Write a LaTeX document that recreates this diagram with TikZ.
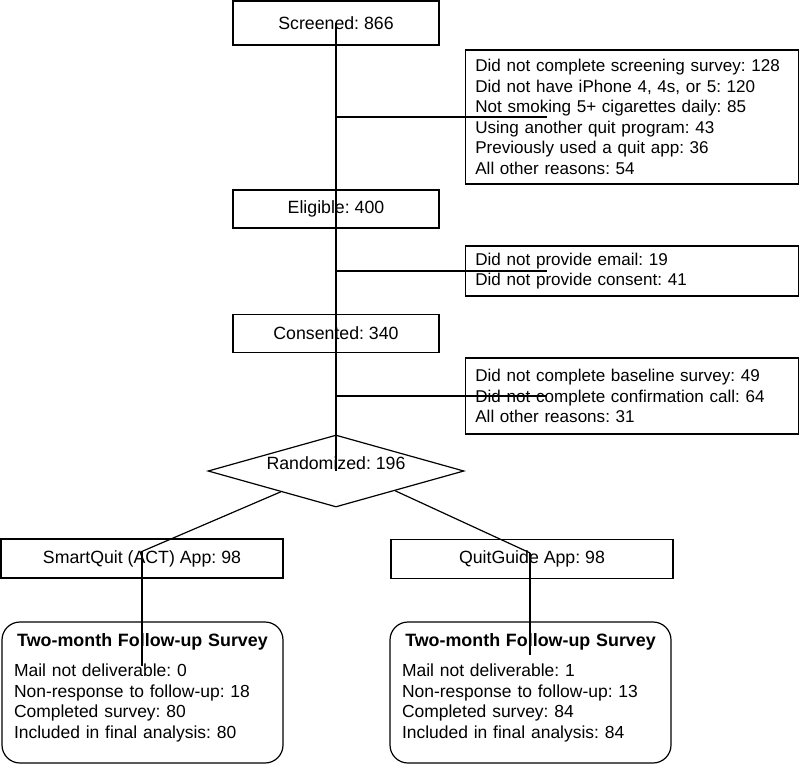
\documentclass[tikz,border=0pt]{standalone}
\usepackage{fontspec}
\setmainfont{Liberation Sans}
\frenchspacing
\usetikzlibrary{calc,shapes.geometric}

\begin{document}
\begin{tikzpicture}[x=0.75pt, y=-0.75pt, line width=0.9pt,
    every node/.style={font=\fontsize{12.8}{15.4}\selectfont},
    big/.style={font=\fontsize{13.3}{15.4}\selectfont},
    stage/.style={draw, big, minimum width=154.5pt, minimum height=28.5pt},
    reasons/.style={draw, text width=235pt, inner xsep=7.4pt, align=left},
    decision/.style={draw, diamond, inner sep=0pt, aspect=3.5,
      minimum width=192pt, minimum height=54pt},
    arm/.style={draw, big, minimum width=211.5pt, minimum height=29.25pt},
    followup/.style={draw, rounded corners=13.5pt, minimum width=210.75pt,
      minimum height=105.75pt},
    fulines/.style={anchor=north, inner sep=0pt, text width=192.75pt, align=left,
      font=\fontsize{13.1}{15.4}\selectfont}
  ]
  \useasboundingbox (0,0) rectangle (800,764);

  % Main column
  \node[stage, minimum height=33pt] (screened) at (336,23) {Screened: 866};
  \node[stage] (eligible) at (336,209) {Eligible: 400};
  \node[stage] (consented) at (336,333.5) {Consented: 340};
  \node[decision, label={[big, yshift=6pt]center:Randomized: 196}] (random) at (336,471) {};

  % Exclusions on the right
  \node[reasons, minimum height=100.5pt] (excl1) at (632,117) {%
    Did not complete screening survey: 128\\
    Did not have iPhone 4, 4s, or 5: 120\\
    Not smoking 5+ cigarettes daily: 85\\
    Using another quit program: 43\\
    Previously used a quit app: 36\\
    All other reasons: 54};
  \node[reasons, minimum height=37.5pt] (excl2) at (632,271) {%
    Did not provide email: 19\\
    Did not provide consent: 41};
  \node[reasons, minimum height=57pt] (excl3) at (632,396) {%
    Did not complete baseline survey: 49\\
    Did not complete confirmation call: 64\\
    All other reasons: 31};

  % The two arms
  \node[arm] (appA) at (142,558.5) {SmartQuit (ACT) App: 98};
  \node[arm] (appB) at (532,559) {QuitGuide App: 98};

  % Follow-up boxes
  \node[followup] (fuA) at (142.5,692.5) {};
  \node[followup] (fuB) at (530.5,692.5) {};
  \node[fulines] (fuAtext) at ($(fuA.north)+(0,12)$) {%
    {\centering\fontsize{13.4}{15.4}\selectfont\bfseries Two-month Follow-up Survey\par}\vspace{7pt}
    Mail not deliverable: 0\\
    Non-response to follow-up: 18\\
    Completed survey: 80\\
    Included in final analysis: 80};
  \node[fulines] (fuBtext) at ($(fuB.north)+(0,12)$) {%
    {\centering\fontsize{13.4}{15.4}\selectfont\bfseries Two-month Follow-up Survey\par}\vspace{7pt}
    Mail not deliverable: 1\\
    Non-response to follow-up: 13\\
    Completed survey: 84\\
    Included in final analysis: 84};

  % Connectors
  \draw (screened.center) -- (random.center);
  \foreach \excl in {excl1, excl2, excl3} {
    \draw (\excl.west -| screened.center) -- ($(\excl.west)+(82,0)$);
  }
  \coordinate (armA) at ($(appA.north)+(0,13)$);
  \coordinate (armB) at ($(appB.north)+(-2,14)$);
  \coordinate (legA) at ($(fuA.north)+(0,45)$);
  \coordinate (legB) at ($(fuB.north)+(0,34)$);
  \draw ($(random.west)!0.57!(random.south)$) -- (armA);
  \draw ($(random.east)!0.54!(random.south)$) -- (armB);
  \draw (armA) -- (armA |- legA);
  \draw (armB) -- (armB |- legB);
\end{tikzpicture}
\end{document}
